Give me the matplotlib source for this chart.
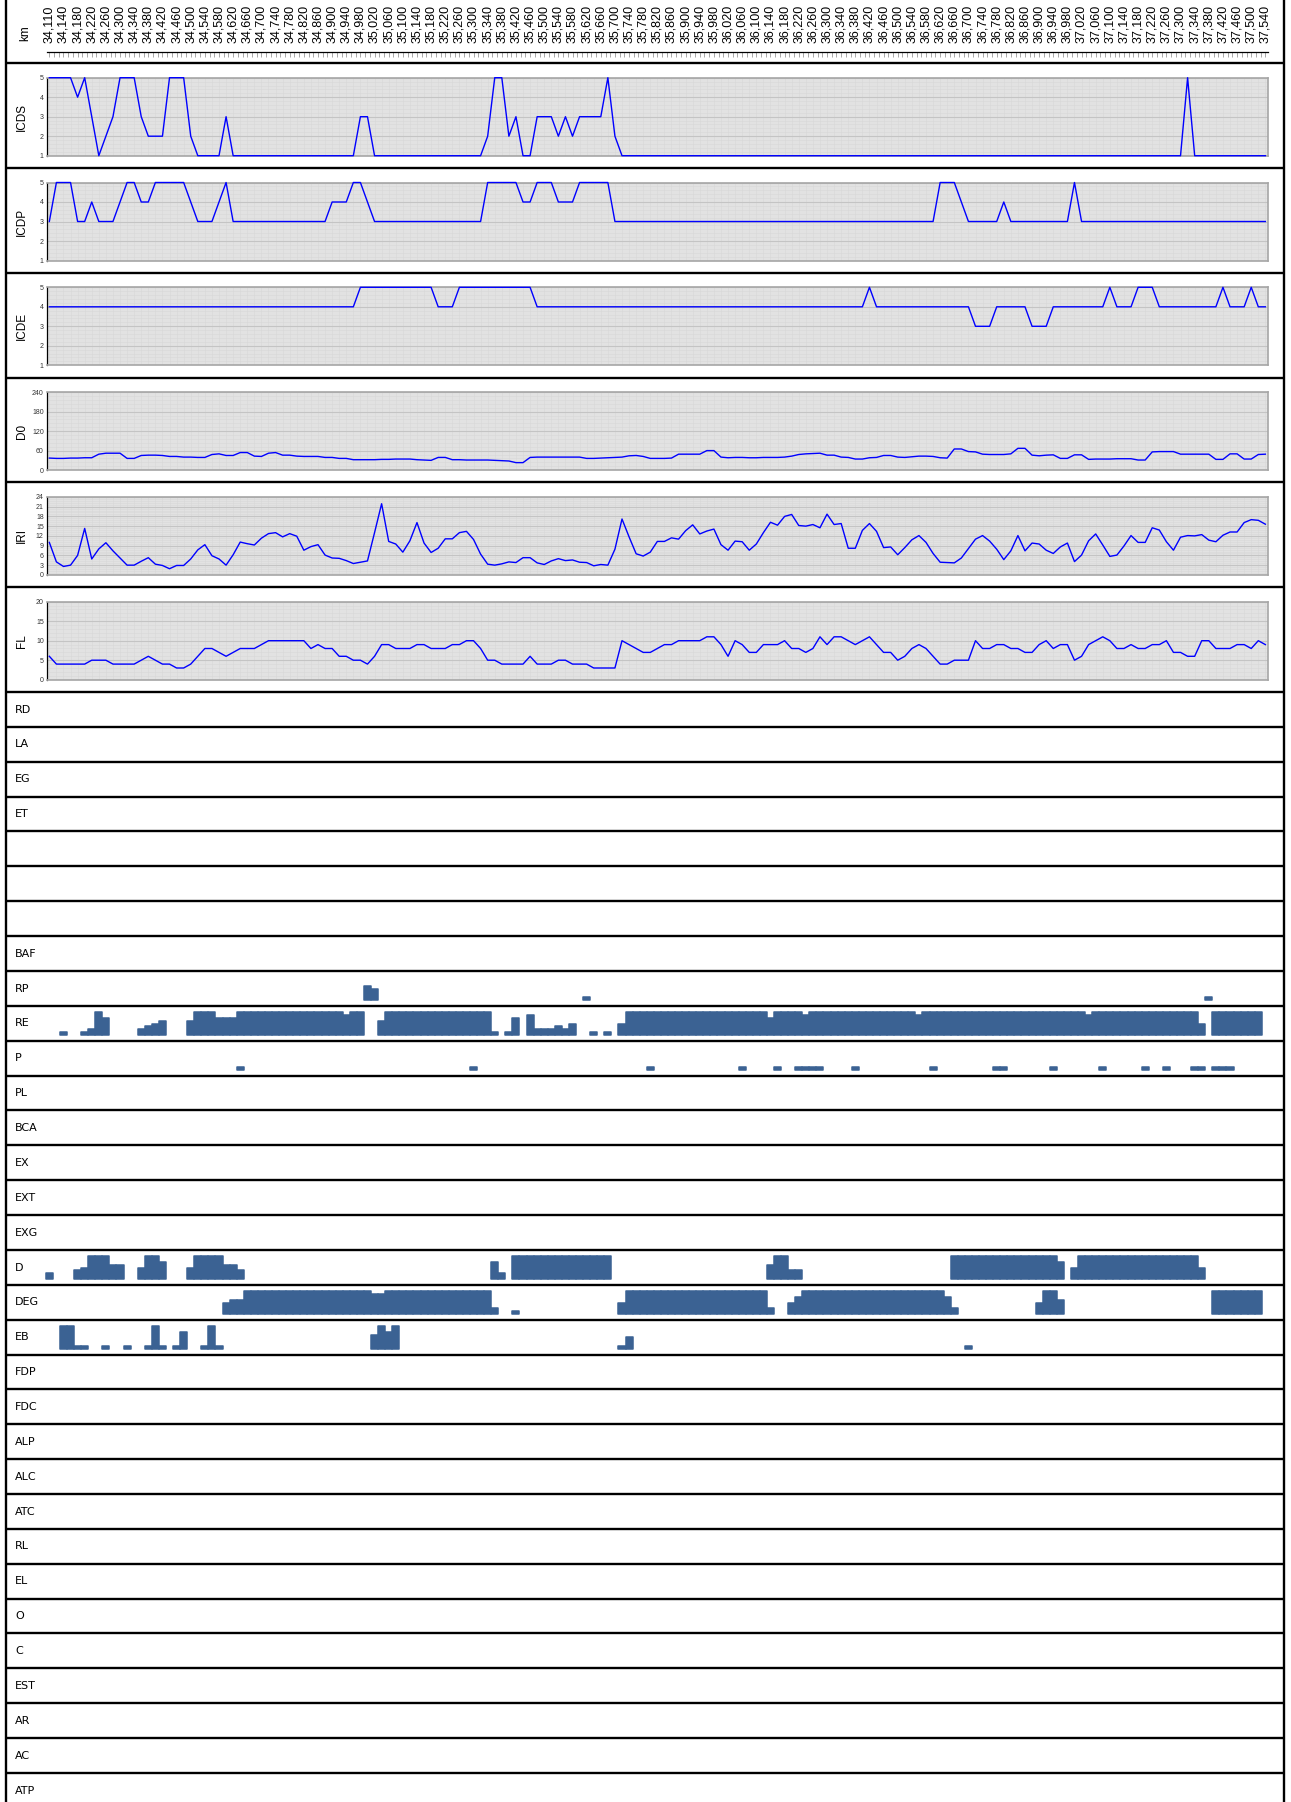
import numpy as np
import matplotlib
matplotlib.use("Agg")
import matplotlib.pyplot as plt

plt.rcParams['font.family'] = ['Liberation Sans', 'DejaVu Sans']

W, H = 1291, 1802

# survey stations: first at 34,110 then every 20 m up to 37,540
km = [34110] + list(range(34120, 37541, 20))
km_labels = ["%d,%03d" % (k // 1000, k % 1000) for k in km[::2]]


def digits(s):
    return [int(c) for c in s]


# condition indices (1..5)
ICDS = digits("5555453123" "5553222555" "2111131111" "1111111111" "1111331111"
              "1111111111" "1125523113" "3323233335" "2111111111" "1111111111"
              "1111111111" "1111111111" "1111111111" "1111111111" "1111111111"
              "1111111111" "1511111111" "111")
ICDP = digits("3555334333" "4554455555" "4333453333" "3333333333" "4445543333"
              "3333333333" "3355555445" "5544455555" "3333333333" "3333333333"
              "3333333333" "3333333333" "3333335554" "3333343333" "3333353333"
              "3333333333" "3333333333" "333")
ICDE = digits("4444444444" "4444444444" "4444444444" "4444444444" "4444555555"
              "5555544455" "5555555554" "4444444444" "4444444444" "4444444444"
              "4444444444" "4444445444" "4444444444" "4333444443" "3344444444"
              "5444555444" "4444445444" "544")

D0 = [37, 36, 36, 37, 37, 38, 38, 49, 52, 52,
      52, 36, 36, 45, 46, 46, 45, 42, 42, 40,
      40, 39, 39, 48, 50, 45, 45, 54, 54, 43,
      42, 52, 54, 46, 46, 43, 42, 42, 42, 39,
      39, 36, 36, 32, 32, 32, 32, 33, 33, 34,
      34, 34, 32, 31, 30, 39, 39, 32, 32, 31,
      31, 31, 31, 30, 29, 28, 23, 23, 39, 40,
      40, 40, 40, 40, 40, 40, 36, 36, 37, 38,
      39, 40, 44, 45, 42, 36, 36, 36, 37, 49,
      49, 49, 49, 60, 60, 40, 38, 39, 39, 38,
      38, 39, 39, 39, 40, 43, 48, 50, 51, 52,
      46, 46, 40, 39, 34, 34, 38, 39, 45, 45,
      40, 39, 41, 43, 43, 42, 38, 37, 65, 65,
      57, 56, 49, 48, 48, 48, 50, 67, 67, 46,
      44, 46, 47, 36, 36, 47, 47, 33, 34, 34,
      34, 35, 35, 35, 31, 31, 56, 57, 57, 57,
      49, 49, 49, 49, 49, 33, 33, 50, 50, 34,
      34, 48, 49]

IRI = [10, 4, 2.6, 3, 6, 14.3, 4.9, 8, 9.9, 7.4,
       5.2, 3, 3, 4.2, 5.3, 3.3, 2.9, 1.9, 2.9, 2.9,
       4.9, 7.7, 9.3, 5.9, 4.9, 3, 6.2, 10.1, 9.6, 9.2,
       11.3, 12.7, 13, 11.7, 12.7, 11.9, 7.6, 8.7, 9.3, 6.1,
       5.2, 5.1, 4.4, 3.5, 3.9, 4.3, 13, 21.9, 10.3, 9.5,
       7, 10.5, 16.1, 9.8, 6.9, 8.2, 11.1, 11.1, 13, 13.4,
       10.9, 6.4, 3.3, 3, 3.4, 4, 3.8, 5.3, 5.3, 3.7,
       3.2, 4.3, 5, 4.4, 4.6, 3.9, 3.8, 2.8, 3.2, 3,
       7.9, 17.2, 11.7, 6.5, 5.8, 7, 10.3, 10.3, 11.4, 11,
       13.6, 15.4, 12.6, 13.5, 14.1, 9.3, 7.6, 10.4, 10.2, 7.6,
       9.5, 13, 16.2, 15.3, 18, 18.6, 15.2, 15, 15.5, 14.5,
       18.7, 15.5, 15.8, 8.2, 8.2, 13.7, 15.8, 13.4, 8.4, 8.6,
       6.2, 8.4, 10.8, 12.1, 10, 6.6, 3.9, 3.8, 3.7, 5.2,
       8.1, 11, 12.1, 10.4, 7.9, 4.7, 7.4, 12.1, 7.4, 9.8,
       9.5, 7.6, 6.6, 8.6, 9.8, 4.1, 6.1, 10.5, 12.6, 9.2,
       5.7, 6.1, 8.9, 12.1, 10, 10, 14.5, 13.8, 10.2, 7.6,
       11.6, 12.1, 12, 12.4, 10.7, 10.2, 12.2, 13.2, 13.2, 16.1,
       17, 16.8, 15.6]

FL = [6, 4, 4, 4, 4, 4, 5, 5, 5, 4,
      4, 4, 4, 5, 6, 5, 4, 4, 3, 3,
      4, 6, 8, 8, 7, 6, 7, 8, 8, 8,
      9, 10, 10, 10, 10, 10, 10, 8, 9, 8,
      8, 6, 6, 5, 5, 4, 6, 9, 9, 8,
      8, 8, 9, 9, 8, 8, 8, 9, 9, 10,
      10, 8, 5, 5, 4, 4, 4, 4, 6, 4,
      4, 4, 5, 5, 4, 4, 4, 3, 3, 3,
      3, 10, 9, 8, 7, 7, 8, 9, 9, 10,
      10, 10, 10, 11, 11, 9, 6, 10, 9, 7,
      7, 9, 9, 9, 10, 8, 8, 7, 8, 11,
      9, 11, 11, 10, 9, 10, 11, 9, 7, 7,
      5, 6, 8, 9, 8, 6, 4, 4, 5, 5,
      5, 10, 8, 8, 9, 9, 8, 8, 7, 7,
      9, 10, 8, 9, 9, 5, 6, 9, 10, 11,
      10, 8, 8, 9, 8, 8, 9, 9, 10, 7,
      7, 6, 6, 10, 10, 8, 8, 8, 9, 9,
      8, 10, 9]

# defect rows: severity level per station (0 = none, 8 = full)
RP = digits("0000000000" "0000000000" "0000000000" "0000000000" "0000054000"
            "0000000000" "0000000000" "0000001000" "0000000000" "0000000000"
            "0000000000" "0000000000" "0000000000" "0000000000" "0000000000"
            "0000000000" "0000100000" "000")
RE = digits("0010012860" "0002345000" "5888666888" "8888888888" "8878800588"
            "8888888888" "8881016072" "2232400101" "0488888888" "8888888888"
            "8868888788" "8888888888" "8887888888" "8888888888" "8888888788"
            "8888888888" "8884088888" "880")
P = digits("0000000000" "0000000000" "0000000100" "0000000000" "0000000000"
           "0000000000" "1000000000" "0000000000" "0000010000" "0000000010"
           "0001001111" "0000100000" "0000010000" "0000110000" "0010000001"
           "0000010010" "0011011100" "000")
D = digits("2000348885" "5004886000" "4888855300" "0000000000" "0000000000"
           "0000000000" "0006208888" "8888888888" "0000000000" "0000000000"
           "0058833000" "0000000000" "0000000088" "8888888888" "8886048888"
           "8888888888" "8884000000" "000")
DEG = digits("0000000000" "0000000000" "0000045588" "8888888888" "8888887788"
             "8888888888" "8882001000" "0000000000" "0488888888" "8888888888"
             "8820046888" "8888888888" "8888888620" "0000000000" "4885000000"
             "0000000000" "0000088888" "880")
EB = digits("0088110010" "0100181016" "0018100000" "0000000000" "0000005868"
            "0000000000" "0000000000" "0000000000" "0140000000" "0000000000"
            "0000000000" "0000000000" "0000000000" "1000000000" "0000000000"
            "0000000000" "0000000000" "000")

row_names = ["RD", "LA", "EG", "ET", "", "", "", "BAF", "RP", "RE", "P", "PL",
             "BCA", "EX", "EXT", "EXG", "D", "DEG", "EB", "FDP", "FDC", "ALP",
             "ALC", "ATC", "RL", "EL", "O", "C", "EST", "AR", "AC", "ATP"]
bar_rows = {"RP": RP, "RE": RE, "P": P, "D": D, "DEG": DEG, "EB": EB}

fig = plt.figure(figsize=(W / 100, H / 100), dpi=100)


def px_axes(x0, y0, x1, y1):
    return fig.add_axes([x0 / W, 1 - y1 / H, (x1 - x0) / W, (y1 - y0) / H])


X0, X1 = 46.5, 1268.2
XLIM = (-0.4, 172.4)
x = np.arange(len(km))
BAR = '#3b6293'

# frame lines (full-figure overlay in pixel coordinates)
ov = px_axes(0, 0, W, H)
ov.set_xlim(0, W)
ov.set_ylim(H, 0)
ov.axis('off')
panel_top, panel_h = 63.2, 104.8
row_top, row_h = 692.0, 34.87
seps = [panel_top + j * panel_h for j in range(6)] + [row_top + k * row_h for k in range(33)]
for y in seps:
    ov.plot([5, 1284.5], [y, y], color='black', lw=1.7, solid_capstyle='butt')
for xv in (5.8, 1283.5):
    ov.plot([xv, xv], [0, H], color='black', lw=1.7, solid_capstyle='butt')

# km axis
axk = px_axes(X0, 52, X1, 60)
axk.set_xlim(*XLIM)
axk.patch.set_visible(False)
axk.xaxis.tick_top()
axk.set_xticks(x[::2])
axk.set_xticklabels(km_labels, rotation=90, fontsize=9)
axk.set_xticks(np.arange(0, 172.01, 2 / 3), minor=True)
axk.tick_params(axis='x', which='both', direction='in', length=3.5, width=0.6,
                color='#999999', pad=6.5)
axk.set_yticks([])
for s in ('left', 'right', 'bottom'):
    axk.spines[s].set_visible(False)
axk.spines['top'].set_linewidth(0.9)
fig.text(25 / W, 1 - 33 / H, 'km', rotation=90, ha='center', va='center', fontsize=8.5)

# line panels
panels = [
    ("ICDS", ICDS, [1, 2, 3, 4, 5]),
    ("ICDP", ICDP, [1, 2, 3, 4, 5]),
    ("ICDE", ICDE, [1, 2, 3, 4, 5]),
    ("D0", D0, [0, 60, 120, 180, 240]),
    ("IRI", IRI, [0, 3, 6, 9, 12, 15, 18, 21, 24]),
    ("FL", FL, [0, 5, 10, 15, 20]),
]
for j, (name, vals, ticks) in enumerate(panels):
    top = panel_top + j * panel_h
    ax = px_axes(X0, top + 14.5, X1, top + 92.5)
    ax.set_facecolor('#e2e2e2')
    ax.plot(x, vals, color='#0000ff', lw=1.0, clip_on=False, zorder=3)
    ax.set_xlim(*XLIM)
    ax.set_ylim(ticks[0], ticks[-1])
    ax.set_yticks(ticks)
    ax.set_yticks(np.linspace(ticks[0], ticks[-1], 5 * (len(ticks) - 1) + 1), minor=True)
    ax.set_xticks([])
    ax.set_xticks(x, minor=True)
    ax.tick_params(axis='both', which='both', length=0)
    ax.tick_params(axis='y', pad=2, labelsize=5, labelcolor='#333333')
    ax.grid(which='minor', color='#d8d8d8', lw=0.4)
    ax.grid(which='major', axis='y', color='#c4c4c4', lw=0.8)
    ax.set_axisbelow(True)
    for s in ('top', 'right', 'bottom'):
        ax.spines[s].set_color('#a6a6a6')
        ax.spines[s].set_linewidth(1.2)
    ax.spines['left'].set_color('black')
    ax.spines['left'].set_linewidth(0.9)
    fig.text(22 / W, 1 - (top + 53.5) / H, name, rotation=90, ha='center',
             va='center', fontsize=8.5)

# defect rows
for k, name in enumerate(row_names):
    top = row_top + k * row_h
    if name:
        fig.text(15 / W, 1 - (top + 17.6) / H, name, ha='left', va='center',
                 fontsize=8, family=['DejaVu Sans'])
    if name in bar_rows:
        lv = bar_rows[name]
        ax = px_axes(X0, top + 29 - 25.3, X1, top + 29)
        ax.set_xlim(*XLIM)
        ax.set_ylim(0, 9)
        ax.axis('off')
        idx = [i for i in range(len(lv)) if lv[i] > 0]
        ax.bar(idx, [lv[i] for i in idx], width=1.0, color=BAR, edgecolor=BAR,
               linewidth=1.1, joinstyle='round', clip_on=False)

fig.savefig('out.png', dpi=100)
